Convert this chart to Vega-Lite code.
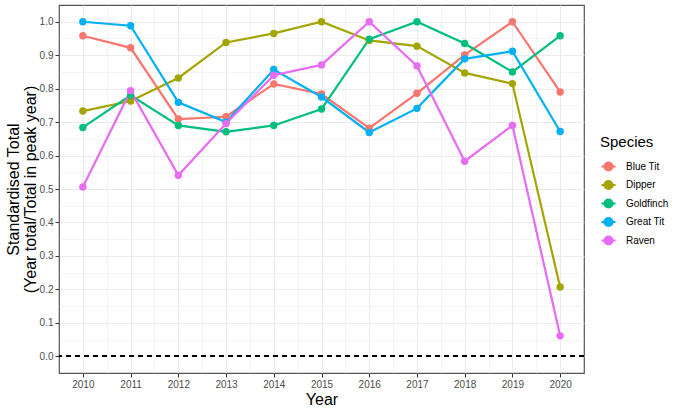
{
  "$schema": "https://vega.github.io/schema/vega-lite/v6.json",
  "width": 525,
  "height": 368,
  "autosize": "none",
  "padding": {"left": 59, "top": 5, "right": 96, "bottom": 40},
  "background": "white",
  "config": {
    "font": "Liberation Sans",
    "view": {"stroke": "#555555", "strokeWidth": 1.2},
    "axis": {
      "labelColor": "#4d4d4d",
      "labelFontSize": 10,
      "titleColor": "black",
      "titleFontSize": 15,
      "titleFontWeight": "normal",
      "domain": false,
      "tickColor": "#333333",
      "tickSize": 4,
      "labelPadding": 2
    }
  },
  "data": {
    "values": [
      {"Year": 2010, "Species": "Blue Tit", "Total": 0.958},
      {"Year": 2011, "Species": "Blue Tit", "Total": 0.922},
      {"Year": 2012, "Species": "Blue Tit", "Total": 0.709},
      {"Year": 2013, "Species": "Blue Tit", "Total": 0.716},
      {"Year": 2014, "Species": "Blue Tit", "Total": 0.814},
      {"Year": 2015, "Species": "Blue Tit", "Total": 0.784},
      {"Year": 2016, "Species": "Blue Tit", "Total": 0.682},
      {"Year": 2017, "Species": "Blue Tit", "Total": 0.786},
      {"Year": 2018, "Species": "Blue Tit", "Total": 0.901},
      {"Year": 2019, "Species": "Blue Tit", "Total": 1.0},
      {"Year": 2020, "Species": "Blue Tit", "Total": 0.79},
      {"Year": 2010, "Species": "Dipper", "Total": 0.733},
      {"Year": 2011, "Species": "Dipper", "Total": 0.763},
      {"Year": 2012, "Species": "Dipper", "Total": 0.832},
      {"Year": 2013, "Species": "Dipper", "Total": 0.938},
      {"Year": 2014, "Species": "Dipper", "Total": 0.965},
      {"Year": 2015, "Species": "Dipper", "Total": 1.0},
      {"Year": 2016, "Species": "Dipper", "Total": 0.944},
      {"Year": 2017, "Species": "Dipper", "Total": 0.927},
      {"Year": 2018, "Species": "Dipper", "Total": 0.847},
      {"Year": 2019, "Species": "Dipper", "Total": 0.815},
      {"Year": 2020, "Species": "Dipper", "Total": 0.207},
      {"Year": 2010, "Species": "Goldfinch", "Total": 0.684},
      {"Year": 2011, "Species": "Goldfinch", "Total": 0.78},
      {"Year": 2012, "Species": "Goldfinch", "Total": 0.69},
      {"Year": 2013, "Species": "Goldfinch", "Total": 0.671},
      {"Year": 2014, "Species": "Goldfinch", "Total": 0.69},
      {"Year": 2015, "Species": "Goldfinch", "Total": 0.739},
      {"Year": 2016, "Species": "Goldfinch", "Total": 0.948},
      {"Year": 2017, "Species": "Goldfinch", "Total": 1.0},
      {"Year": 2018, "Species": "Goldfinch", "Total": 0.935},
      {"Year": 2019, "Species": "Goldfinch", "Total": 0.85},
      {"Year": 2020, "Species": "Goldfinch", "Total": 0.958},
      {"Year": 2010, "Species": "Great Tit", "Total": 1.0},
      {"Year": 2011, "Species": "Great Tit", "Total": 0.988},
      {"Year": 2012, "Species": "Great Tit", "Total": 0.759},
      {"Year": 2013, "Species": "Great Tit", "Total": 0.7},
      {"Year": 2014, "Species": "Great Tit", "Total": 0.857},
      {"Year": 2015, "Species": "Great Tit", "Total": 0.775},
      {"Year": 2016, "Species": "Great Tit", "Total": 0.669},
      {"Year": 2017, "Species": "Great Tit", "Total": 0.741},
      {"Year": 2018, "Species": "Great Tit", "Total": 0.889},
      {"Year": 2019, "Species": "Great Tit", "Total": 0.912},
      {"Year": 2020, "Species": "Great Tit", "Total": 0.672},
      {"Year": 2010, "Species": "Raven", "Total": 0.506},
      {"Year": 2011, "Species": "Raven", "Total": 0.794},
      {"Year": 2012, "Species": "Raven", "Total": 0.541},
      {"Year": 2013, "Species": "Raven", "Total": 0.696},
      {"Year": 2014, "Species": "Raven", "Total": 0.84},
      {"Year": 2015, "Species": "Raven", "Total": 0.871},
      {"Year": 2016, "Species": "Raven", "Total": 1.0},
      {"Year": 2017, "Species": "Raven", "Total": 0.868},
      {"Year": 2018, "Species": "Raven", "Total": 0.583},
      {"Year": 2019, "Species": "Raven", "Total": 0.69},
      {"Year": 2020, "Species": "Raven", "Total": 0.061}
    ]
  },
  "encoding": {
    "x": {
      "field": "Year",
      "type": "quantitative",
      "scale": {"domain": [2009.5, 2020.5], "nice": false, "zero": false},
      "axis": {
        "title": "Year",
        "titleFontSize": 16,
        "titlePadding": 2,
        "values": [2010, 2010.5, 2011, 2011.5, 2012, 2012.5, 2013, 2013.5, 2014, 2014.5, 2015, 2015.5, 2016, 2016.5, 2017, 2017.5, 2018, 2018.5, 2019, 2019.5, 2020],
        "labelExpr": "datum.value % 1 == 0 ? format(datum.value, 'd') : ''",
        "gridColor": "#ebebeb",
        "gridWidth": {"condition": {"test": "datum.value % 1 == 0", "value": 1.1}, "value": 0.55},
        "tickOpacity": {"condition": {"test": "datum.value % 1 == 0", "value": 1}, "value": 0}
      }
    },
    "y": {
      "field": "Total",
      "type": "quantitative",
      "scale": {"domain": [-0.05, 1.05], "nice": false, "zero": false},
      "axis": {
        "title": ["Standardised Total", "(Year total/Total in peak year)"],
        "titleFontSize": 16,
        "titleLineHeight": 17,
        "titleBaseline": "alphabetic",
        "titlePadding": 0,
        "titleX": -41,
        "values": [0, 0.05, 0.1, 0.15, 0.2, 0.25, 0.3, 0.35, 0.4, 0.45, 0.5, 0.55, 0.6, 0.65, 0.7, 0.75, 0.8, 0.85, 0.9, 0.95, 1.0],
        "labelExpr": "round(datum.value * 20) % 2 == 0 ? format(datum.value, '.1f') : ''",
        "gridColor": "#ebebeb",
        "gridWidth": {"condition": {"test": "round(datum.value * 20) % 2 == 0", "value": 1.1}, "value": 0.55},
        "tickOpacity": {"condition": {"test": "round(datum.value * 20) % 2 == 0", "value": 1}, "value": 0}
      }
    },
    "color": {
      "field": "Species",
      "type": "nominal",
      "scale": {
        "domain": ["Blue Tit", "Dipper", "Goldfinch", "Great Tit", "Raven"],
        "range": ["#F8766D", "#A3A500", "#00BF7D", "#00B0F6", "#E76BF3"]
      },
      "legend": {
        "title": "Species",
        "orient": "none",
        "legendX": 541,
        "legendY": 130,
        "titleFontSize": 15,
        "titleFontWeight": "normal",
        "titleColor": "black",
        "titlePadding": 8,
        "labelFontSize": 10,
        "labelColor": "black",
        "labelOffset": 9,
        "rowPadding": 1.5,
        "symbolType": "M-1,0L1,0M-0.57,0A0.57,0.57 0 1,0 0.57,0A0.57,0.57 0 1,0 -0.57,0",
        "symbolSize": 196,
        "symbolStrokeWidth": 2.2,
        "encode": {
          "symbols": {
            "update": {
              "stroke": {"scale": "color", "field": "value"},
              "fill": {"scale": "color", "field": "value"},
              "fillOpacity": {"value": 1},
              "opacity": {"value": 1}
            }
          }
        }
      }
    }
  },
  "layer": [
    {
      "mark": {"type": "rule", "color": "black", "strokeDash": [5, 4], "strokeWidth": 1.2},
      "encoding": {
        "y": {"datum": 0},
        "x": {},
        "color": {}
      }
    },
    {
      "mark": {"type": "line", "strokeWidth": 2.2},
      "encoding": {"order": {"field": "Year"}}
    },
    {
      "mark": {"type": "point", "filled": true, "size": 55, "opacity": 1}
    }
  ]
}
